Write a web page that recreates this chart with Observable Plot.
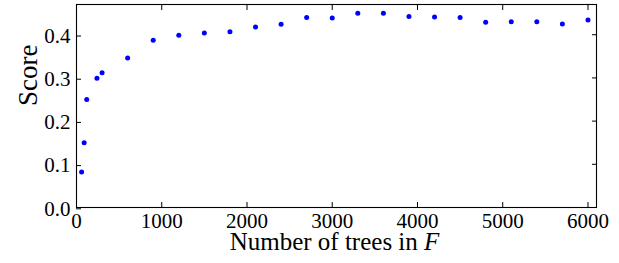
<!DOCTYPE html>
<html><head><meta charset="utf-8">
<script src="https://cdn.jsdelivr.net/npm/d3@7"></script>
<script src="https://cdn.jsdelivr.net/npm/@observablehq/plot@0.6"></script>
<style>body{margin:0;background:#fff} #chart svg{display:block}</style>
</head><body><div id="chart"></div>
<script>
const trees = [60, 90, 120, 240, 300, 600, 900, 1200, 1500, 1800, 2100, 2400, 2700, 3000, 3300, 3600, 3900, 4200, 4500, 4800, 5100, 5400, 5700, 6000];
const scores = [0.082, 0.150, 0.250, 0.299, 0.312, 0.346, 0.387, 0.399, 0.404, 0.407, 0.418, 0.424, 0.440, 0.439, 0.450, 0.450, 0.442, 0.441, 0.440, 0.429, 0.430, 0.430, 0.425, 0.434];
const xTicks = [0, 1000, 2000, 3000, 4000, 5000, 6000];
const yTicks = [0, 0.1, 0.2, 0.3, 0.4];
const xLabel = "Number of trees in ";
const xLabelVar = "F";
const yLabel = "Score";

const data = trees.map((t, i) => ({trees: t, score: scores[i]}));
const font = "Liberation Serif";

const chart = Plot.plot({
  width: 619, height: 263,
  marginLeft: 76, marginRight: 23, marginTop: 4, marginBottom: 56,
  style: {fontFamily: font, fontSize: "20px"},
  x: {domain: [0, 6100]},
  y: {domain: [0, 0.47]},
  marks: [
    Plot.axisX(xTicks, {anchor: "bottom", tickSize: -5, tickPadding: 10.5, label: null, tickFormat: d => String(d), fontSize: 21, fontFamily: font}),
    Plot.axisX(xTicks, {anchor: "top", tickSize: -5, label: null, tickFormat: () => ""}),
    Plot.axisY(yTicks, {anchor: "left", tickSize: -5, tickPadding: 11, label: null, tickFormat: d => d.toFixed(1), fontSize: 21, fontFamily: font, dy: 1.3}),
    Plot.axisY(yTicks, {anchor: "right", tickSize: -5, label: null, tickFormat: () => ""}),
    Plot.frame({stroke: "black", strokeWidth: 1.1}),
    Plot.dot(data, {x: "trees", y: "score", r: 2.5, fill: "#0000ff", stroke: "none"}),
    Plot.text([xLabel + xLabelVar], {frameAnchor: "bottom", dy: 42, dx: -2, fontSize: 25, fontFamily: font, fill: "black", className: "xl"}),
    Plot.text([yLabel], {frameAnchor: "left", rotate: -90, dx: -48, fontSize: 27, fontFamily: font, fill: "black"})
  ]
});
document.getElementById("chart").append(chart);

// italic variable in x label
d3.select(chart).selectAll(".xl text").each(function() {
  const t = d3.select(this);
  t.text(xLabel);
  t.append("tspan").attr("font-style", "italic").text(xLabelVar);
});
</script>
</body></html>
